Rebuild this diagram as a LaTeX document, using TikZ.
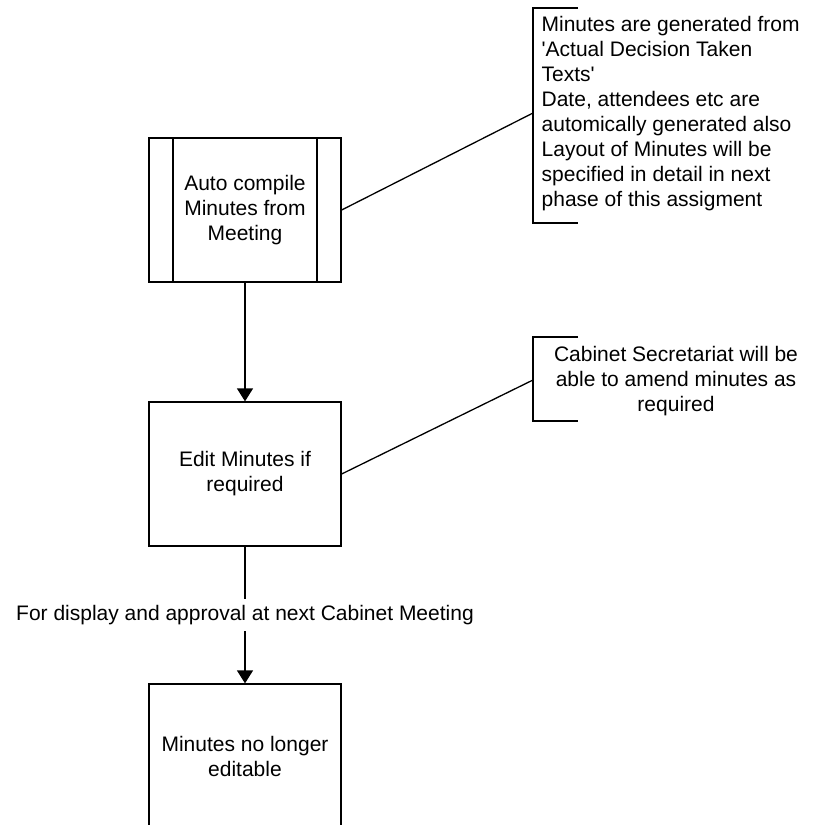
\documentclass[tikz,border=0pt]{standalone}
\usepackage{fontspec}
\setmainfont{Liberation Sans}
\usetikzlibrary{arrows.meta}
\begin{document}
\begin{tikzpicture}[x=1pt,y=-1pt,line width=1.3pt,
  every node/.style={font=\fontsize{21}{25}\selectfont},
  procbox/.style={draw,minimum width=192pt,minimum height=144pt,align=center,inner sep=0pt},
  note/.style={inner sep=0pt},
  flow/.style={-{Triangle[width=16pt,length=13pt]}},
  link/.style={line width=1.3pt}]
\clip (0,0) rectangle (812,825);
\fill[white] (0,0) rectangle (812,825);
% process boxes
\node[procbox] (auto) at (245,210) {Auto compile\\Minutes from\\Meeting};
\draw (173,138) -- (173,282) (317,138) -- (317,282);
\node[procbox] (edit) at (245,474) {Edit Minutes if\\required};
\node[procbox] (final) at (245,756) {Minutes no longer\\editable};
% flow connectors
\draw[flow] (auto) -- (edit);
\draw[flow] (edit) -- node[fill=white,inner xsep=2pt,inner ysep=6.5pt] (lbl) {For display and approval at next Cabinet Meeting} (final);
% annotation 1
\coordinate (b1) at (533,113);
\draw (578,8) -- (533,8) -- (533,223) -- (578,223);
\node[note,anchor=north west,align=left] (n1) at (541,16) {Minutes are generated from\\\textquotesingle Actual Decision Taken\\Texts\textquotesingle\\Date, attendees etc are\\automically generated also\\Layout of Minutes will be\\specified in detail in next\\phase of this assigment};
\draw[link] (auto.east) -- (b1);
% annotation 2
\coordinate (b2) at (533,380);
\draw (578,337) -- (533,337) -- (533,421) -- (578,421);
\node[note,anchor=north,align=center] (n2) at (676,346) {Cabinet Secretariat will be\\able to amend minutes as\\required};
\draw[link] (edit.east) -- (b2);
\end{tikzpicture}
\end{document}
